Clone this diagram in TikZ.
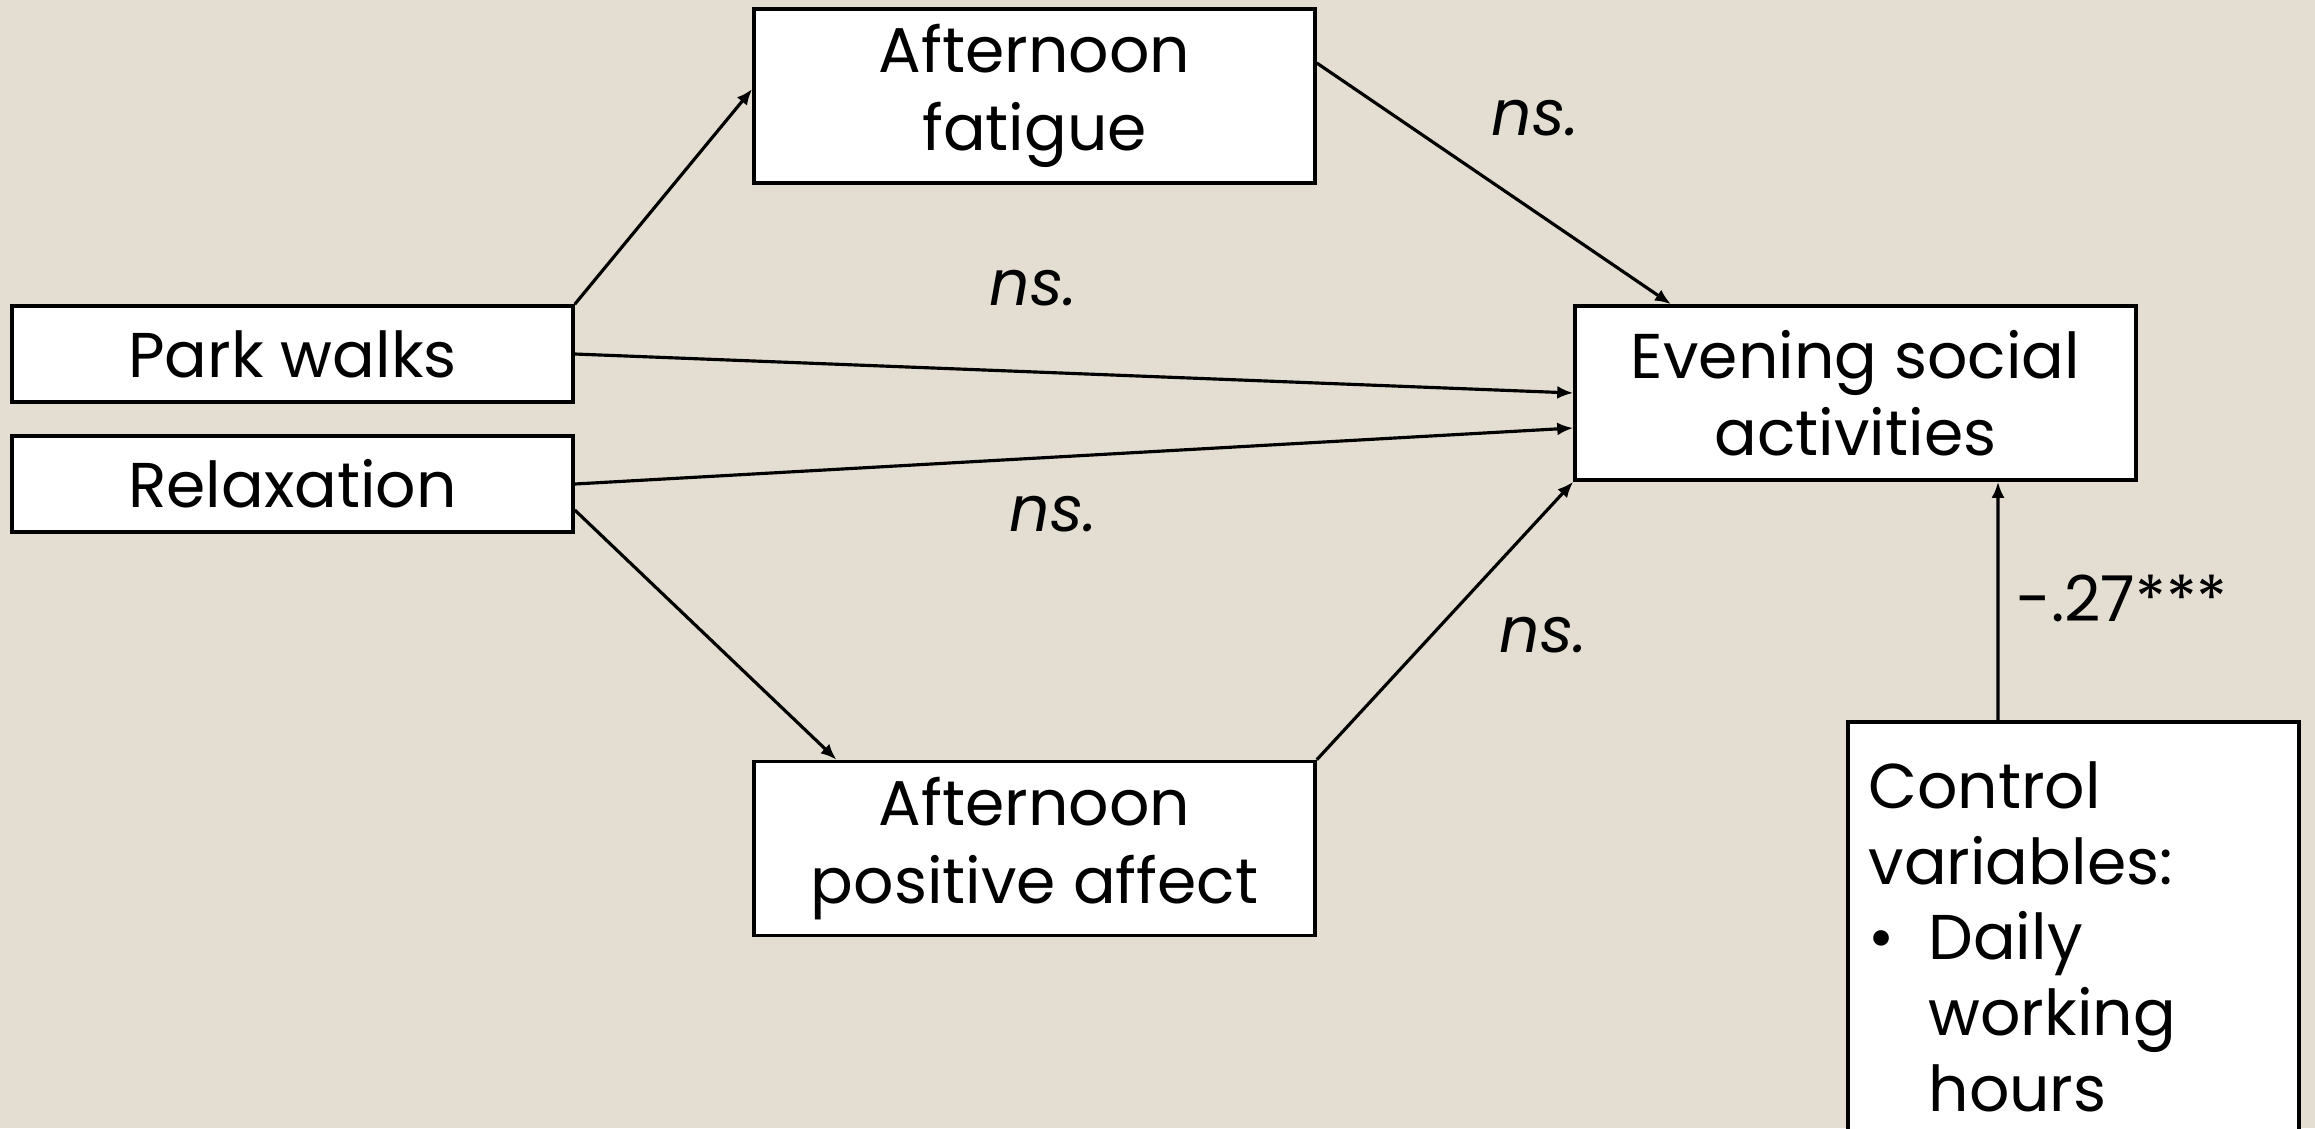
\documentclass[tikz,border=0pt]{standalone}
\usepackage{fontspec}
\setmainfont{Poppins}
\usetikzlibrary{arrows.meta}
\definecolor{paper}{RGB}{227,222,209}
\begin{document}
\begin{tikzpicture}[
  var/.style={rectangle, draw=black, fill=white, line width=1pt, minimum width=5.61cm, minimum height=1.74cm, inner sep=0pt, align=center, font=\fontsize{18}{22}\selectfont},
  short/.style={var, minimum height=0.96cm},
  ctrl/.style={rectangle, draw=black, fill=white, line width=1pt, minimum width=4.51cm, minimum height=4.3cm, text width=4.1cm, inner sep=0pt, align=left, anchor=north, font=\fontsize{18}{21.5}\selectfont},
  arrow/.style={-{Latex[length=1.6mm,width=1.3mm]}, line width=0.9pt, color=black},
  coef/.style={font=\fontsize{18}{22}\selectfont\itshape},
  est/.style={font=\fontsize{18}{22}\selectfont}
]
  \useasboundingbox (0,0) rectangle (23.15,-11.28);
  \fill[paper] (0,0) rectangle (23.15,-11.28);

  \node[var] (fatigue) at (10.345,-0.96) {Afternoon\\fatigue};
  \node[short] (park) at (2.925,-3.54) {Park walks};
  \node[short] (relax) at (2.925,-4.84) {Relaxation};
  \node[var] (evening) at (18.555,-3.93) {Evening social\\activities};
  \node[var] (positive) at (10.345,-8.485) {Afternoon\\positive affect};
  \node[ctrl] (control) at (20.735,-7.20) {Control\\variables:\\\makebox[0.6cm][l]{\textbullet}Daily\\\hspace*{0.6cm}working\\\hspace*{0.6cm}hours};

  % Park walks -> fatigue -> evening
  \draw[arrow] (park.north east) -- ([yshift=0.07cm]fatigue.west);
  \draw[arrow] ([yshift=0.33cm]fatigue.east) -- ([xshift=-1.845cm]evening.north);

  % direct paths
  \draw[arrow] (park.east) -- (evening.west);
  \draw[arrow] (relax.east) -- ([yshift=-0.35cm]evening.west);

  % Relaxation -> positive affect -> evening
  \draw[arrow] ([yshift=-0.26cm]relax.east) -- ([xshift=-1.98cm]positive.north);
  \draw[arrow] (positive.north east) -- (evening.south west);

  % control variables
  \draw[arrow] ([xshift=-0.755cm]control.north) -- ([xshift=1.425cm]evening.south);

  \node[coef] (c1) at (15.35,-1.18) {ns.};
  \node[coef] (c2) at (10.33,-2.88) {ns.};
  \node[coef] (c3) at (10.53,-5.14) {ns.};
  \node[coef] (c4) at (15.43,-6.35) {ns.};
  \node[est] (c5) at (21.22,-5.98) {-.27***};
\end{tikzpicture}
\end{document}
